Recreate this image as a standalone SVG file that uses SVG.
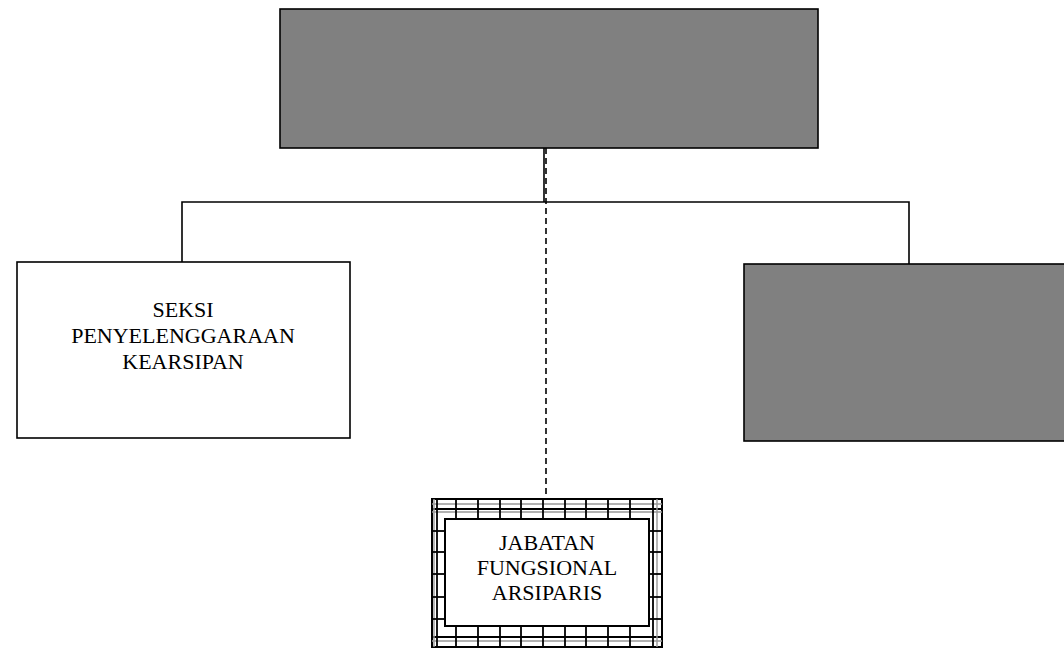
<svg xmlns="http://www.w3.org/2000/svg" width="1064" height="649" viewBox="0 0 1064 649">
<style>
.box{stroke:#000;stroke-width:1.6}
.grey{fill:#808080}
.white{fill:#fff}
.conn{stroke:#000;stroke-width:1.6;fill:none}
.dash{stroke:#000;stroke-width:1.6;stroke-dasharray:6 4;fill:none}
.lbl{font-family:"Liberation Serif",serif;font-size:22px;fill:#000;text-anchor:middle}
.gd{stroke:#000;stroke-width:1.8}
.gl{stroke:#999;stroke-width:1.4}
</style>
<rect width="1064" height="649" fill="#fff"/>
<g id="connectors">
<line class="conn" x1="544" y1="148" x2="544" y2="202"/>
<polyline class="conn" points="182,262 182,202 909,202 909,264"/>
<line class="dash" x1="546" y1="148" x2="546" y2="499"/>
</g>
<g id="top">
<rect class="box grey" x="280" y="9" width="538" height="139"/>
</g>
<g id="seksi">
<rect class="box white" x="17" y="262" width="333" height="176"/>
<text class="lbl" x="183" y="317">SEKSI</text>
<text class="lbl" x="183" y="343">PENYELENGGARAAN</text>
<text class="lbl" x="183" y="369">KEARSIPAN</text>
</g>
<g id="right">
<rect class="box grey" x="744" y="264" width="330" height="177"/>
</g>
<g id="jabatan">
<rect x="432" y="499" width="230" height="148" fill="#fff" stroke="#000" stroke-width="2"/>
<g>
<line class="gl" x1="432" y1="504" x2="662" y2="504"/>
<line class="gd" x1="432" y1="509" x2="662" y2="509"/>
<line class="gl" x1="432" y1="512" x2="662" y2="512"/>
<line class="gd" x1="432" y1="637" x2="662" y2="637"/>
<line class="gl" x1="432" y1="641" x2="662" y2="641"/>
<line class="gl" x1="434" y1="499" x2="434" y2="647"/>
<line class="gd" x1="437" y1="499" x2="437" y2="647"/>
<line class="gd" x1="653" y1="499" x2="653" y2="647"/>
<line class="gl" x1="657" y1="499" x2="657" y2="647"/>
</g>
<g>
<line class="gd" x1="456" y1="499" x2="456" y2="519"/>
<line class="gd" x1="478" y1="499" x2="478" y2="519"/>
<line class="gd" x1="500" y1="499" x2="500" y2="519"/>
<line class="gd" x1="521" y1="499" x2="521" y2="519"/>
<line class="gd" x1="543" y1="499" x2="543" y2="519"/>
<line class="gd" x1="565" y1="499" x2="565" y2="519"/>
<line class="gd" x1="586" y1="499" x2="586" y2="519"/>
<line class="gd" x1="608" y1="499" x2="608" y2="519"/>
<line class="gd" x1="630" y1="499" x2="630" y2="519"/>
<line class="gd" x1="456" y1="626" x2="456" y2="647"/>
<line class="gd" x1="478" y1="626" x2="478" y2="647"/>
<line class="gd" x1="500" y1="626" x2="500" y2="647"/>
<line class="gd" x1="521" y1="626" x2="521" y2="647"/>
<line class="gd" x1="543" y1="626" x2="543" y2="647"/>
<line class="gd" x1="565" y1="626" x2="565" y2="647"/>
<line class="gd" x1="586" y1="626" x2="586" y2="647"/>
<line class="gd" x1="608" y1="626" x2="608" y2="647"/>
<line class="gd" x1="630" y1="626" x2="630" y2="647"/>
<line class="gd" x1="432" y1="531" x2="445" y2="531"/>
<line class="gd" x1="432" y1="552" x2="445" y2="552"/>
<line class="gd" x1="432" y1="574" x2="445" y2="574"/>
<line class="gd" x1="432" y1="597" x2="445" y2="597"/>
<line class="gd" x1="432" y1="619" x2="445" y2="619"/>
<line class="gd" x1="649" y1="531" x2="662" y2="531"/>
<line class="gd" x1="649" y1="552" x2="662" y2="552"/>
<line class="gd" x1="649" y1="574" x2="662" y2="574"/>
<line class="gd" x1="649" y1="597" x2="662" y2="597"/>
<line class="gd" x1="649" y1="619" x2="662" y2="619"/>
</g>
<rect x="445" y="519" width="204" height="107" fill="#fff" stroke="#000" stroke-width="2"/>
<text class="lbl" x="547" y="550">JABATAN</text>
<text class="lbl" x="547" y="575">FUNGSIONAL</text>
<text class="lbl" x="547" y="600">ARSIPARIS</text>
</g>
</svg>
